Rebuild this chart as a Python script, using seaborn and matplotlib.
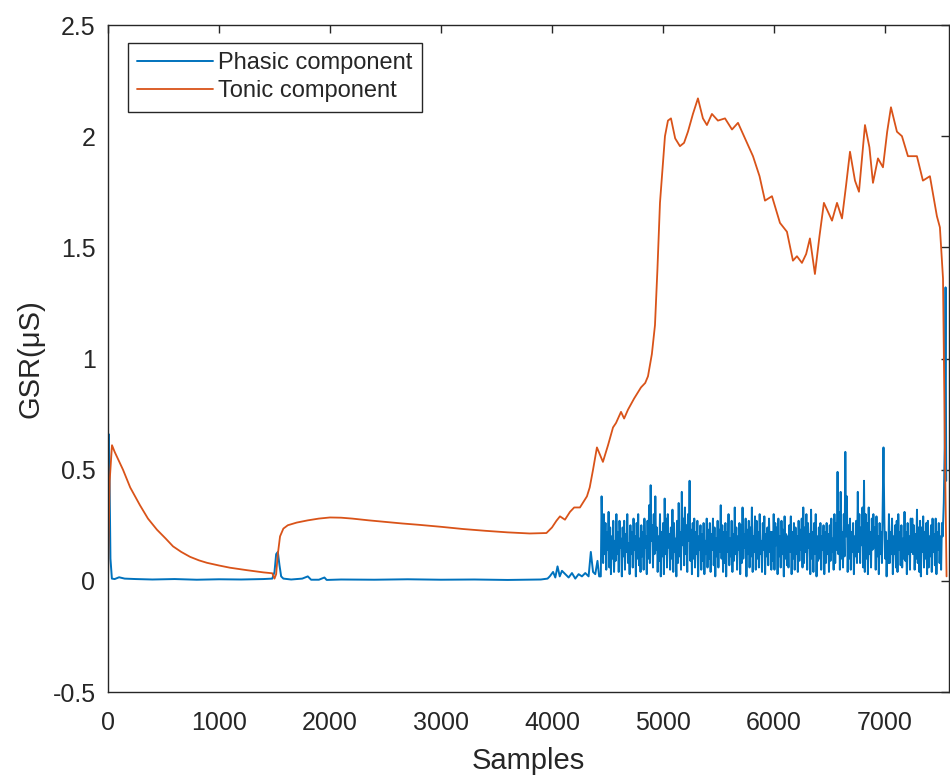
import numpy as np
import pandas as pd
import seaborn as sns
import matplotlib
matplotlib.use("Agg")
import matplotlib.pyplot as plt

# ---------------- data ----------------
tonic_x = [0, 15, 36, 60, 135, 200, 288, 360, 441, 520, 586, 660, 739, 820, 892, 1000,
           1099, 1250, 1400, 1480, 1500, 1515, 1530, 1550, 1580, 1620, 1700, 1800, 1900,
           2000, 2100, 2200, 2350, 2500, 2650, 2800, 3000, 3200, 3400, 3600, 3800, 3950,
           4000, 4040, 4072, 4117, 4162, 4200, 4252, 4315, 4340, 4370, 4405, 4430, 4459,
           4505, 4550, 4577, 4622, 4650, 4685, 4740, 4802, 4840, 4865, 4900, 4928, 4950,
           4973, 5018, 5045, 5072, 5110, 5153, 5190, 5225, 5270, 5315, 5360, 5396, 5441,
           5495, 5559, 5622, 5676, 5757, 5811, 5870, 5919, 5982, 6054, 6117, 6171, 6207,
           6252, 6290, 6324, 6369, 6410, 6450, 6523, 6568, 6613, 6650, 6685, 6730, 6766,
           6820, 6860, 6892, 6937, 6982, 7020, 7054, 7108, 7153, 7207, 7288, 7342, 7405,
           7440, 7468, 7495, 7523, 7540, 7555]
tonic_y = [0.0, 0.45, 0.61, 0.58, 0.50, 0.42, 0.34, 0.28, 0.23, 0.19, 0.155, 0.13, 0.108,
           0.092, 0.081, 0.069, 0.059, 0.048, 0.038, 0.034, 0.01, 0.03, 0.12, 0.20, 0.235,
           0.25, 0.262, 0.272, 0.28, 0.285, 0.284, 0.28, 0.272, 0.265, 0.258, 0.252, 0.243,
           0.233, 0.225, 0.218, 0.213, 0.215, 0.24, 0.27, 0.29, 0.275, 0.31, 0.33, 0.33,
           0.38, 0.42, 0.50, 0.60, 0.57, 0.535, 0.61, 0.69, 0.71, 0.76, 0.73, 0.77, 0.82,
           0.87, 0.89, 0.92, 1.02, 1.15, 1.40, 1.70, 2.00, 2.07, 2.08, 1.99, 1.955, 1.97,
           2.02, 2.10, 2.17, 2.08, 2.05, 2.10, 2.07, 2.08, 2.03, 2.06, 1.97, 1.91, 1.82,
           1.71, 1.73, 1.61, 1.57, 1.44, 1.46, 1.43, 1.47, 1.54, 1.38, 1.55, 1.70, 1.62,
           1.70, 1.63, 1.78, 1.93, 1.80, 1.75, 2.05, 1.95, 1.79, 1.90, 1.86, 2.02, 2.13,
           2.02, 2.00, 1.91, 1.91, 1.80, 1.82, 1.72, 1.64, 1.59, 1.36, 0.60, 0.02]

# phasic component: quiet part
phasic_quiet_x = [0, 6, 12, 22, 35, 60, 100, 150, 250, 400, 600, 800, 1000, 1200, 1400,
                  1480, 1500, 1515, 1530, 1545, 1560, 1580, 1650, 1750, 1800, 1830, 1900,
                  1950, 1970, 2100, 2400, 2700, 3000, 3300, 3600, 3900, 3960, 3980, 4010,
                  4030, 4050, 4070, 4090, 4120, 4150, 4180, 4210, 4240, 4270, 4300, 4330,
                  4350, 4370, 4390, 4410, 4425]
phasic_quiet_y = [0.0, 0.66, 0.55, 0.10, 0.01, 0.008, 0.016, 0.01, 0.008, 0.006, 0.008,
                  0.005, 0.007, 0.006, 0.008, 0.01, 0.04, 0.12, 0.13, 0.07, 0.02, 0.01,
                  0.006, 0.01, 0.02, 0.005, 0.005, 0.015, 0.004, 0.006, 0.005, 0.007,
                  0.005, 0.006, 0.004, 0.006, 0.01, 0.02, 0.04, 0.015, 0.065, 0.02, 0.045,
                  0.03, 0.015, 0.035, 0.01, 0.03, 0.02, 0.035, 0.02, 0.13, 0.04, 0.03,
                  0.09, 0.02]

# phasic component: active part (samples 4440 .. 7520, evenly spaced)
phasic_active_start = 4440
phasic_active_end = 7520
phasic_active_y = [
    0.02, 0.38, 0.20, 0.08, 0.30, 0.12, 0.26, 0.05, 0.22, 0.14,
    0.31, 0.06, 0.24, 0.03, 0.20, 0.10, 0.27, 0.04, 0.18, 0.09,
    0.30, 0.12, 0.22, 0.04, 0.27, 0.15, 0.19, 0.02, 0.24, 0.11,
    0.27, 0.05, 0.21, 0.13, 0.30, 0.08, 0.17, 0.03, 0.25, 0.12,
    0.22, 0.06, 0.28, 0.14, 0.20, 0.02, 0.26, 0.10, 0.30, 0.07,
    0.19, 0.04, 0.25, 0.11, 0.22, 0.05, 0.28, 0.15, 0.20, 0.03,
    0.27, 0.10, 0.34, 0.08, 0.43, 0.18, 0.25, 0.06, 0.30, 0.12,
    0.38, 0.14, 0.24, 0.04, 0.20, 0.09, 0.30, 0.02, 0.22, 0.11,
    0.26, 0.03, 0.37, 0.12, 0.28, 0.06, 0.30, 0.15, 0.21, 0.05,
    0.24, 0.10, 0.32, 0.04, 0.26, 0.13, 0.19, 0.02, 0.27, 0.08,
    0.35, 0.11, 0.22, 0.05, 0.40, 0.16, 0.28, 0.07, 0.33, 0.12,
    0.25, 0.04, 0.30, 0.18, 0.45, 0.09, 0.23, 0.03, 0.26, 0.10,
    0.28, 0.06, 0.22, 0.12, 0.27, 0.02, 0.20, 0.14, 0.25, 0.05,
    0.21, 0.09, 0.26, 0.03, 0.18, 0.12, 0.28, 0.06, 0.23, 0.10,
    0.26, 0.04, 0.21, 0.14, 0.28, 0.07, 0.24, 0.02, 0.19, 0.11,
    0.27, 0.06, 0.23, 0.13, 0.34, 0.10, 0.25, 0.04, 0.22, 0.08,
    0.26, 0.02, 0.22, 0.13, 0.30, 0.07, 0.19, 0.11, 0.27, 0.04,
    0.21, 0.09, 0.33, 0.12, 0.24, 0.05, 0.20, 0.14, 0.26, 0.03,
    0.25, 0.08, 0.33, 0.10, 0.21, 0.15, 0.28, 0.02, 0.23, 0.12,
    0.27, 0.06, 0.24, 0.11, 0.33, 0.04, 0.20, 0.13, 0.29, 0.05,
    0.27, 0.10, 0.22, 0.06, 0.30, 0.12, 0.18, 0.04, 0.26, 0.14,
    0.29, 0.03, 0.21, 0.11, 0.24, 0.07, 0.28, 0.13, 0.22, 0.05,
    0.22, 0.09, 0.30, 0.05, 0.26, 0.16, 0.24, 0.03, 0.28, 0.11,
    0.20, 0.06, 0.27, 0.12, 0.23, 0.02, 0.29, 0.10, 0.21, 0.07,
    0.20, 0.06, 0.25, 0.13, 0.29, 0.03, 0.22, 0.10, 0.26, 0.05,
    0.24, 0.12, 0.20, 0.04, 0.27, 0.09, 0.23, 0.14, 0.28, 0.06,
    0.33, 0.08, 0.24, 0.13, 0.30, 0.05, 0.26, 0.15, 0.21, 0.03,
    0.32, 0.10, 0.22, 0.04, 0.26, 0.12, 0.30, 0.02, 0.20, 0.09,
    0.24, 0.10, 0.26, 0.05, 0.20, 0.14, 0.25, 0.03, 0.22, 0.08,
    0.26, 0.12, 0.21, 0.04, 0.25, 0.09, 0.28, 0.13, 0.19, 0.05,
    0.30, 0.08, 0.26, 0.14, 0.49, 0.12, 0.31, 0.05, 0.40, 0.10,
    0.22, 0.06, 0.30, 0.11, 0.58, 0.20, 0.38, 0.04, 0.25, 0.10,
    0.28, 0.05, 0.22, 0.13, 0.26, 0.03, 0.20, 0.11, 0.27, 0.08,
    0.40, 0.13, 0.30, 0.08, 0.24, 0.16, 0.33, 0.06, 0.45, 0.04,
    0.30, 0.10, 0.26, 0.03, 0.33, 0.12, 0.22, 0.06, 0.28, 0.14,
    0.30, 0.15, 0.24, 0.05, 0.29, 0.11, 0.20, 0.03, 0.26, 0.12,
    0.22, 0.08, 0.35, 0.60, 0.30, 0.10, 0.22, 0.02, 0.18, 0.08,
    0.30, 0.08, 0.22, 0.12, 0.28, 0.03, 0.20, 0.12, 0.25, 0.06,
    0.27, 0.04, 0.30, 0.14, 0.22, 0.07, 0.25, 0.06, 0.19, 0.10,
    0.31, 0.09, 0.22, 0.03, 0.26, 0.12, 0.20, 0.05, 0.28, 0.13,
    0.28, 0.12, 0.25, 0.05, 0.21, 0.10, 0.32, 0.08, 0.24, 0.04,
    0.27, 0.02, 0.24, 0.13, 0.29, 0.06, 0.22, 0.10, 0.26, 0.03,
    0.27, 0.06, 0.20, 0.11, 0.25, 0.04, 0.28, 0.13, 0.21, 0.07,
    0.28, 0.03, 0.22, 0.14, 0.26, 0.08, 0.20, 0.05, 0.26, 0.20,
]
# final burst
phasic_end_x = [7530, 7538, 7546, 7552]
phasic_end_y = [0.35, 0.60, 1.32, 0.45]

x_ticks = [0, 1000, 2000, 3000, 4000, 5000, 6000, 7000]
y_ticks = [-0.5, 0, 0.5, 1, 1.5, 2, 2.5]
y_tick_labels = ["-0.5", "0", "0.5", "1", "1.5", "2", "2.5"]

# ---------------- assemble ----------------
active_x = np.linspace(phasic_active_start, phasic_active_end, len(phasic_active_y))
phasic = pd.DataFrame({
    "x": list(phasic_quiet_x) + list(active_x) + phasic_end_x,
    "y": list(phasic_quiet_y) + list(phasic_active_y) + phasic_end_y,
})
tonic = pd.DataFrame({"x": tonic_x, "y": tonic_y})

# ---------------- style ----------------
sns.set_theme(style="white")
plt.rcParams["font.family"] = ["Liberation Sans", "DejaVu Sans"]
text_c = "#262626"
blue = "#0072BD"
orange = "#D95319"

fig = plt.figure(figsize=(9.5, 7.76), dpi=100)
ax = fig.add_axes([108 / 950, 1 - 692 / 776, (949 - 108) / 950, (692 - 25) / 776])

sns.lineplot(data=phasic, x="x", y="y", ax=ax, color=blue, linewidth=1.4,
             label="Phasic component", sort=False, estimator=None)
sns.lineplot(data=tonic, x="x", y="y", ax=ax, color=orange, linewidth=1.3,
             label="Tonic component", sort=False, estimator=None)

ax.set_xlim(0, 7577)
ax.set_ylim(-0.5, 2.5)
ax.set_xticks(x_ticks)
ax.set_xticklabels([str(t) for t in x_ticks])
ax.set_yticks(y_ticks)
ax.set_yticklabels(y_tick_labels)

for s in ax.spines.values():
    s.set_color(text_c)
    s.set_linewidth(1.0)
    s.set_visible(True)

ax.tick_params(direction="in", length=6, width=1.0, colors=text_c, labelsize=18,
               top=True, right=True, labeltop=False, labelright=False)
ax.tick_params(axis="y", pad=9)
ax.tick_params(axis="x", pad=14)

ax.set_xlabel("Samples", fontsize=21, color=text_c, labelpad=8)
ax.set_ylabel("GSR(μS)", fontsize=21, color=text_c, labelpad=6)

leg = ax.legend(loc="upper left", bbox_to_anchor=(0.0238, 0.973), borderaxespad=0,
                fontsize=17, frameon=True, fancybox=False, handlelength=3.2,
                handletextpad=0.2, labelspacing=0.25, borderpad=0.4)
leg.get_frame().set_edgecolor(text_c)
leg.get_frame().set_linewidth(1.0)
leg.get_frame().set_alpha(1)
for t in leg.get_texts():
    t.set_color(text_c)

fig.savefig("out.png", dpi=100)
